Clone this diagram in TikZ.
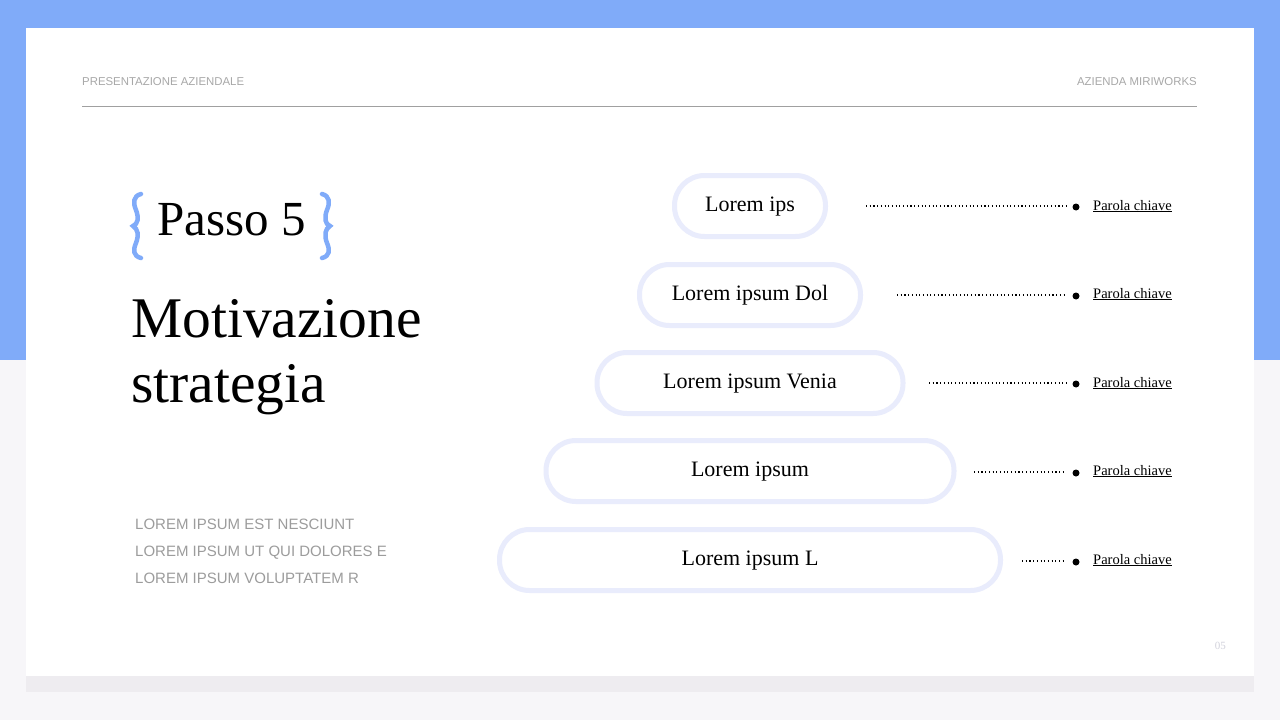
\documentclass[tikz,border=0pt]{standalone}
\usepackage{fontspec}
\setmainfont{Liberation Serif}
\setsansfont{Liberation Sans}
\definecolor{bandblue}{HTML}{80ABF9}
\definecolor{pagebg}{HTML}{F7F6F9}
\definecolor{stripgrey}{HTML}{EEECF0}
\definecolor{pillline}{HTML}{E9ECFC}
\definecolor{headgrey}{HTML}{A8A8A8}
\definecolor{rulegrey}{HTML}{A0A0A0}
\definecolor{bodygrey}{HTML}{9C9C9C}
\definecolor{numgrey}{HTML}{D2D2DC}
\tikzset{
  pill/.style={draw=pillline, line width=5pt, fill=white, rounded corners=30pt,
    minimum height=61pt, inner sep=0pt, font=\fontsize{22}{22}\selectfont,
    text height=14pt, text depth=4pt},
  dotc/.style={circle, fill=black, inner sep=0pt, minimum size=7pt},
  dotline/.style={line width=1.1pt, dash pattern=on 1.1pt off 2.6pt},
  kw/.style={anchor=base west, inner sep=0pt, font=\fontsize{14.5}{14.5}\selectfont},
  header/.style={inner sep=0pt, text=headgrey, font=\sffamily\fontsize{11.4}{11.4}\selectfont},
  body/.style={anchor=base west, inner sep=0pt, text=bodygrey, font=\sffamily\fontsize{15}{15}\selectfont},
  brace/.style={draw=bandblue, line width=4.5pt, line cap=round}
}
\begin{document}
\begin{tikzpicture}[x=1pt,y=-1pt]
\useasboundingbox (0,0) rectangle (1280,720);
% background
\fill[pagebg] (0,0) rectangle (1280,720);
\fill[bandblue] (0,0) rectangle (1280,360);
\fill[stripgrey] (26,676) rectangle (1254,692);
\fill[white] (26,28) rectangle (1254,676);
% header
\node[header, anchor=base west] (h1) at (82,85) {PRESENTAZIONE AZIENDALE};
\node[header, anchor=base east] (h2) at (1197,85) {AZIENDA MIRIWORKS};
\coordinate (r1) at (82,106);
\coordinate (r2) at (1197,106);
\draw[rulegrey, line width=0.8pt] (r1) -- (r2);
% title
\draw[brace] (141,194) .. controls (133,196) and (133,203) .. (136,210)
  .. controls (139,218) and (138,224) .. (133,226)
  .. controls (138,229) and (139,235) .. (136,243)
  .. controls (133,250) and (133,256) .. (141,258);
\draw[brace] (322,194) .. controls (330,196) and (330,203) .. (327,210)
  .. controls (324,218) and (325,224) .. (330,226)
  .. controls (325,229) and (324,235) .. (327,243)
  .. controls (330,250) and (330,256) .. (322,258);
\node[anchor=base west, inner sep=0pt, font=\fontsize{49}{49}\selectfont] (t1) at (157,235) {Passo 5};
\node[anchor=base west, inner sep=0pt, font=\fontsize{57.5}{57.5}\selectfont] (t2) at (131,337) {Motivazione};
\node[anchor=base west, inner sep=0pt, font=\fontsize{57.5}{57.5}\selectfont] (t3) at (131,402) {strategia};
% body text
\node[body] (b1) at (135,529) {LOREM IPSUM EST NESCIUNT};
\node[body] (b2) at (135,556) {LOREM IPSUM UT QUI DOLORES E};
\node[body] (b3) at (135,583) {LOREM IPSUM VOLUPTATEM R};
% pills
\node[pill, minimum width=151pt] (p1) at (750,206) {Lorem ips};
\node[pill, minimum width=221pt] (p2) at (750,295) {Lorem ipsum Dol};
\node[pill, minimum width=306pt] (p3) at (750,383) {Lorem ipsum Venia};
\node[pill, minimum width=408pt] (p4) at (750,471) {Lorem ipsum};
\node[pill, minimum width=501pt] (p5) at (750,560) {Lorem ipsum L};
% connectors
\coordinate (s1) at (866,206);
\coordinate (s2) at (897,295);
\coordinate (s3) at (929,383);
\coordinate (s4) at (974,472);
\coordinate (s5) at (1022,561);
\coordinate (e1) at (1066,206);
\coordinate (e2) at (1066,295);
\coordinate (e3) at (1066,383);
\coordinate (e4) at (1066,472);
\coordinate (e5) at (1066,561);
\node[dotc] (d1) at (1076,207) {};
\node[dotc] (d2) at (1076,296) {};
\node[dotc] (d3) at (1076,384) {};
\node[dotc] (d4) at (1076,473) {};
\node[dotc] (d5) at (1076,562) {};
\draw[dotline] (s1) -- (e1);
\draw[dotline] (s2) -- (e2);
\draw[dotline] (s3) -- (e3);
\draw[dotline] (s4) -- (e4);
\draw[dotline] (s5) -- (e5);
\node[kw] (k1) at (1093,210) {\underline{Parola chiave}};
\node[kw] (k2) at (1093,298) {\underline{Parola chiave}};
\node[kw] (k3) at (1093,387) {\underline{Parola chiave}};
\node[kw] (k4) at (1093,475) {\underline{Parola chiave}};
\node[kw] (k5) at (1093,564) {\underline{Parola chiave}};
% page number
\node[anchor=base east, inner sep=0pt, text=numgrey, font=\fontsize{11}{11}\selectfont] (pn) at (1226,649) {05};
\end{tikzpicture}
\end{document}
